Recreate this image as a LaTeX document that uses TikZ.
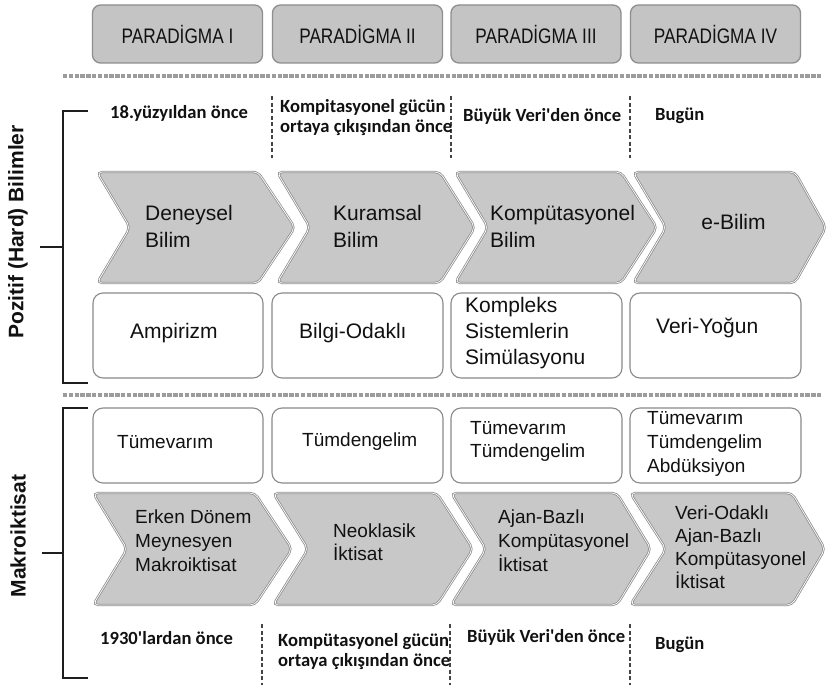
\documentclass[tikz,border=0pt]{standalone}
\usepackage{fontspec}
\setmainfont{Liberation Sans}
\newfontfamily\narrowfont{Liberation Sans}[FakeStretch=0.82]
\newfontfamily\datefont{Carlito}
\definecolor{chevfill}{HTML}{C8C8C8}
\definecolor{chevline}{HTML}{8E8E8E}
\definecolor{parfill}{HTML}{C4C4C4}
\definecolor{boxline}{HTML}{8A8A8A}
\definecolor{dotcol}{HTML}{9C9C9C}
\definecolor{sepcol}{HTML}{444444}
\definecolor{brk}{HTML}{1E1E1E}
\definecolor{txt}{HTML}{111111}
\begin{document}
\begin{tikzpicture}[x=1pt,y=-1pt,
  parbox/.style={draw=chevline,line width=1.3pt,fill=parfill,rounded corners=8pt,
    minimum width=170pt,minimum height=58pt,inner sep=0pt,
    font=\narrowfont\fontsize{21}{25}\selectfont,text=txt},
  wbox/.style={draw=boxline,line width=1.1pt,fill=white,rounded corners=10pt},
  chev/.style={fill=chevfill,draw=chevline,line width=0.8pt,double=white,double distance=0.7pt,rounded corners=5pt},
  lbl/.style={anchor=west,align=left,inner sep=0pt,text=txt,font=\fontsize{21}{#1}\selectfont},
  lbl/.default=27,
  lbs/.style={anchor=west,align=left,inner sep=0pt,text=txt,font=\fontsize{19}{#1}\selectfont},
  lbs/.default=24,
  datelbl/.style={anchor=west,align=left,inner sep=0pt,text=txt,font=\datefont\bfseries\fontsize{18.6}{20}\selectfont},
  dotline/.style={draw=dotcol,line width=3.6pt,dash pattern=on 4.3pt off 1.5pt},
  sep/.style={draw=sepcol,line width=1.4pt,dash pattern=on 4pt off 2.5pt},
  brkline/.style={draw=brk,line width=1.8pt},
  side/.style={rotate=90,inner sep=0pt,text=txt,font=\bfseries\fontsize{21}{25}\selectfont}
]
\useasboundingbox (0,0) rectangle (827,685);
\fill[white] (0,0) rectangle (827,685);

% paradigm boxes
\node[parbox] (p1) at (177.5,34) {PARADİGMA I};
\node[parbox] (p2) at (357.5,34) {PARADİGMA II};
\node[parbox] (p3) at (536,34) {PARADİGMA III};
\node[parbox] (p4) at (715.5,34) {PARADİGMA IV};

% dotted separators
\coordinate (d1a) at (63,76); \coordinate (d1b) at (822,76);
\coordinate (d2a) at (63,395); \coordinate (d2b) at (822,395);
\draw[dotline] (d1a) -- (d1b);
\draw[dotline] (d2a) -- (d2b);

% brackets
\coordinate (b1t) at (88,111); \coordinate (b1tl) at (63,111);
\coordinate (b1b) at (88,383); \coordinate (b1bl) at (63,383);
\coordinate (b1m) at (63,247); \coordinate (b1ml) at (40,247);
\draw[brkline] (b1t) -- (b1tl) -- (b1bl) -- (b1b);
\draw[brkline] (b1m) -- (b1ml);
\coordinate (b2t) at (88,408); \coordinate (b2tl) at (63,408);
\coordinate (b2b) at (88,678); \coordinate (b2bl) at (63,678);
\coordinate (b2m) at (63,553); \coordinate (b2ml) at (42,553);
\draw[brkline] (b2t) -- (b2tl) -- (b2bl) -- (b2b);
\draw[brkline] (b2m) -- (b2ml);

\node[side] (pz) at (18,232) {Pozitif (Hard) Bilimler};
\node[side] (mk) at (18,536) {Makroiktisat};

% top date separators
\coordinate (s1a) at (272,96); \coordinate (s1b) at (272,158);
\coordinate (s2a) at (451,96); \coordinate (s2b) at (451,158);
\coordinate (s3a) at (630,96); \coordinate (s3b) at (630,158);
\draw[sep] (s1a) -- (s1b);
\draw[sep] (s2a) -- (s2b);
\draw[sep] (s3a) -- (s3b);

\node[datelbl] (t1) at (110,113) {18.yüzyıldan önce};
\node[datelbl] (t2) at (280,118) {Kompitasyonel gücün\\ortaya çıkışından önce};
\node[datelbl] (t3) at (463,116) {Büyük Veri'den önce};
\node[datelbl] (t4) at (655,116) {Bugün};

% row 1 chevrons
\draw[chev] (97,172) -- (258,172) -- (295,227.5) -- (258,283) -- (97,283) -- (130,227.5) -- cycle;
\draw[chev] (277,172) -- (440,172) -- (475,227.5) -- (440,283) -- (277,283) -- (310,227.5) -- cycle;
\draw[chev] (455,172) -- (621,172) -- (657,227.5) -- (621,283) -- (455,283) -- (488,227.5) -- cycle;
\draw[chev] (633,172) -- (795,172) -- (826,227.5) -- (795,283) -- (633,283) -- (666,227.5) -- cycle;

\node[lbl] (c1) at (145,226.5) {Deneysel\\Bilim};
\node[lbl] (c2) at (333,226.5) {Kuramsal\\Bilim};
\node[lbl] (c3) at (490,226.5) {Kompütasyonel\\Bilim};
\node[inner sep=0pt,text=txt,font=\fontsize{21}{27}\selectfont] (c4) at (733.5,222) {e-Bilim};

% row 1 white boxes
\draw[wbox] (93,293) rectangle (263,378);
\draw[wbox] (272,293) rectangle (443,378);
\draw[wbox] (451,293) rectangle (622,378);
\draw[wbox] (630,293) rectangle (801,378);

\node[lbl] (w1) at (130,333) {Ampirizm};
\node[lbl] (w2) at (299,333) {Bilgi-Odaklı};
\node[lbl=26] (w3) at (465,333) {Kompleks\\Sistemlerin\\Simülasyonu};
\node[lbl] (w4) at (656,328) {Veri-Yoğun};

% row 2 white boxes
\draw[wbox] (93,408) rectangle (263,483);
\draw[wbox] (272,408) rectangle (443,483);
\draw[wbox] (451,408) rectangle (622,483);
\draw[wbox] (630,408) rectangle (801,483);

\node[lbs] (m1) at (117,442) {Tümevarım};
\node[lbs] (m2) at (302,442) {Tümdengelim};
\node[lbs=23] (m3) at (470,441.5) {Tümevarım\\Tümdengelim};
\node[lbs=24] (m4) at (647,444) {Tümevarım\\Tümdengelim\\Abdüksiyon};

% row 2 chevrons
\draw[chev] (93,493) -- (255,493) -- (292,549) -- (255,605) -- (93,605) -- (127,549) -- cycle;
\draw[chev] (273,493) -- (437,493) -- (473,549) -- (437,605) -- (273,605) -- (308,549) -- cycle;
\draw[chev] (451,493) -- (617,493) -- (651,549) -- (617,605) -- (451,605) -- (486,549) -- cycle;
\draw[chev] (630,493) -- (792,493) -- (825,549) -- (792,605) -- (630,605) -- (666,549) -- cycle;

\node[lbs] (e1) at (135,541) {Erken Dönem\\Meynesyen\\Makroiktisat};
\node[lbs=23] (e2) at (333,542) {Neoklasik\\İktisat};
\node[lbs] (e3) at (498,541) {Ajan-Bazlı\\Kompütasyonel\\İktisat};
\node[lbs=23] (e4) at (675,547.5) {Veri-Odaklı\\Ajan-Bazlı\\Kompütasyonel\\İktisat};

% bottom date separators
\coordinate (u1a) at (262,624); \coordinate (u1b) at (262,685);
\coordinate (u2a) at (450,624); \coordinate (u2b) at (450,685);
\coordinate (u3a) at (630,624); \coordinate (u3b) at (630,685);
\draw[sep] (u1a) -- (u1b);
\draw[sep] (u2a) -- (u2b);
\draw[sep] (u3a) -- (u3b);

\node[datelbl] (v1) at (100,638) {1930'lardan önce};
\node[datelbl] (v2) at (278,652) {Kompütasyonel gücün\\ortaya çıkışından önce};
\node[datelbl] (v3) at (467,637) {Büyük Veri'den önce};
\node[datelbl] (v4) at (655,645) {Bugün};
\end{tikzpicture}
\end{document}
